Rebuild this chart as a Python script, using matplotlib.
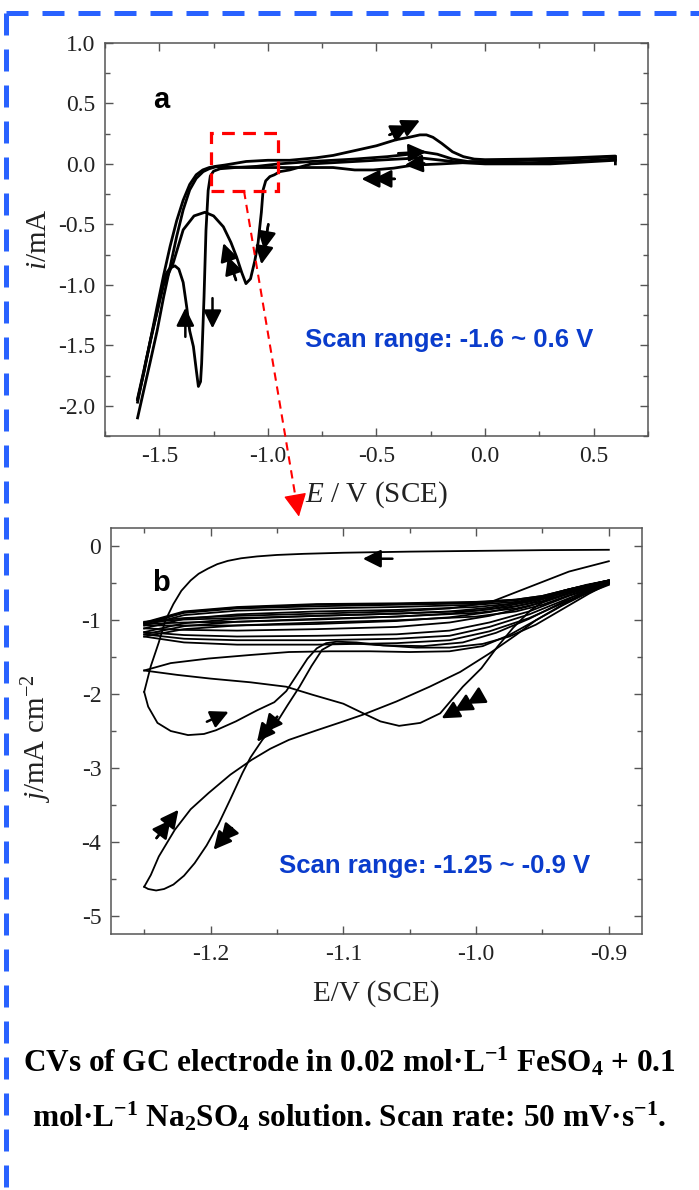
import matplotlib
matplotlib.use("Agg")
import matplotlib.pyplot as plt
from matplotlib.patches import Rectangle
from matplotlib.lines import Line2D
from matplotlib.ticker import MultipleLocator

plt.rcParams['font.family'] = ['Liberation Serif', 'DejaVu Serif']
plt.rcParams['mathtext.fontset'] = 'custom'
plt.rcParams['mathtext.rm'] = 'Liberation Serif'
plt.rcParams['mathtext.it'] = 'Liberation Serif:italic'
plt.rcParams['mathtext.bf'] = 'Liberation Serif:bold'
plt.rcParams['mathtext.default'] = 'regular'
plt.rcParams['axes.unicode_minus'] = False

# ---- panel a: wide scan, -1.6 ~ 0.6 V ----
a_cath_x = [0.60, 0.40, 0.20, 0.00, -0.10, -0.20, -0.33, -0.42, -0.515, -0.60, -0.70, -0.80, -0.90,
            -1.00, -1.10, -1.20, -1.236, -1.27, -1.298, -1.33, -1.36, -1.39, -1.42, -1.45, -1.48,
            -1.51, -1.543, -1.57, -1.60]
a_cath_y = [0.04, 0.02, 0.01, 0.01, 0.01, 0.00, -0.01, -0.035, -0.05, -0.05, -0.03, -0.03, -0.03,
            -0.03, -0.03, -0.025, -0.022, -0.04, -0.064, -0.12, -0.215, -0.38, -0.60, -0.85, -1.10,
            -1.38, -1.647, -1.86, -2.10]

a_an1_x = [-1.60, -1.57, -1.54, -1.51, -1.48, -1.45, -1.42, -1.39, -1.36, -1.33, -1.30, -1.27, -1.24,
           -1.20, -1.10, -1.00, -0.90, -0.78, -0.70, -0.60, -0.50, -0.41, -0.35, -0.30, -0.27,
           -0.24, -0.20, -0.15, -0.10, -0.05, 0.00, 0.20, 0.40, 0.60, 0.60]
a_an1_y = [-1.95, -1.72, -1.45, -1.18, -0.92, -0.68, -0.47, -0.30, -0.17, -0.09, -0.05, -0.03, -0.02,
           -0.01, 0.02, 0.03, 0.03, 0.05, 0.07, 0.11, 0.15, 0.20, 0.22, 0.24, 0.24,
           0.22, 0.17, 0.10, 0.06, 0.04, 0.035, 0.04, 0.05, 0.065, 0.00]

a_an2_x = [-1.60, -1.57, -1.54, -1.51, -1.497, -1.48, -1.466, -1.45, -1.428, -1.41, -1.39, -1.374,
           -1.36, -1.343, -1.33, -1.32, -1.31, -1.305, -1.30, -1.294, -1.285, -1.275, -1.265,
           -1.25, -1.22, -1.15, -1.05, -0.95, -0.80, -0.60, -0.45, -0.35, -0.29, -0.22, -0.15,
           -0.08, 0.00, 0.20, 0.40, 0.60]
a_an2_y = [-1.94, -1.70, -1.45, -1.22, -1.10, -0.98, -0.90, -0.86, -0.843, -0.87, -0.98, -1.18,
           -1.38, -1.51, -1.70, -1.84, -1.80, -1.65, -1.40, -1.10, -0.55, -0.22, -0.10,
           -0.06, -0.04, -0.03, -0.02, 0.00, 0.02, 0.04, 0.06, 0.08, 0.10, 0.08, 0.04,
           0.02, 0.02, 0.03, 0.04, 0.06]

a_an3_x = [-1.60, -1.56, -1.52, -1.48, -1.436, -1.39, -1.34, -1.29, -1.25, -1.205, -1.17, -1.144,
           -1.12, -1.101, -1.08, -1.06, -1.045, -1.03, -1.022, -1.01, -0.991, -0.97, -0.945,
           -0.90, -0.80, -0.70, -0.60, -0.50, -0.40, -0.30, -0.20, -0.10, 0.00, 0.30, 0.60]
a_an3_y = [-1.97, -1.62, -1.30, -1.00, -0.82, -0.545, -0.43, -0.40, -0.43, -0.52, -0.65, -0.77,
           -0.90, -0.99, -0.95, -0.80, -0.65, -0.40, -0.215, -0.14, -0.105, -0.09, -0.064,
           -0.05, 0.00, 0.01, 0.02, 0.03, 0.04, 0.05, 0.03, 0.01, 0.00, 0.00, 0.03]

a_arrows = [((-1.38, -1.43), (-1.38, -1.19), 1),
            ((-1.255, -1.11), (-1.255, -1.36), 1),
            ((-1.147, -0.96), (-1.205, -0.655), 2),
            ((-0.998, -0.50), (-1.03, -0.83), 2),
            ((-0.44, 0.24), (-0.30, 0.36), 2),
            ((-0.40, 0.088), (-0.27, 0.10), 1),
            ((-0.28, 0.005), (-0.37, -0.01), 1),
            ((-0.416, -0.124), (-0.569, -0.124), 2)]

# ---- panel b: narrow scan, -1.25 ~ -0.9 V ----
b1_x = [-0.900, -0.950, -1.000, -1.050, -1.100, -1.130, -1.150, -1.165, -1.177, -1.187, -1.195,
        -1.202, -1.209, -1.215, -1.222, -1.228, -1.234, -1.239, -1.245, -1.250]
b1_y = [-0.045, -0.050, -0.060, -0.070, -0.085, -0.100, -0.115, -0.135, -0.160, -0.195, -0.240,
        -0.300, -0.370, -0.460, -0.600, -0.780, -1.000, -1.300, -1.620, -1.970]
b1r_x = [-1.250, -1.247, -1.240, -1.230, -1.217, -1.205, -1.196, -1.181, -1.165, -1.152, -1.143,
         -1.135, -1.127, -1.120, -1.113, -1.105, -1.090, -1.070, -1.045, -1.020, -0.995, -0.975,
         -0.955, -0.935, -0.915, -0.900]
b1r_y = [-1.970, -2.170, -2.390, -2.500, -2.555, -2.540, -2.490, -2.370, -2.220, -2.110, -1.960,
         -1.740, -1.520, -1.380, -1.310, -1.290, -1.300, -1.340, -1.370, -1.370, -1.320, -1.220,
         -1.060, -0.850, -0.640, -0.500]

b2_x = [-0.900, -0.920, -0.940, -0.960, -0.985, -1.010, -1.040, -1.070, -1.095, -1.108, -1.116,
        -1.124, -1.133, -1.142, -1.150, -1.161, -1.170, -1.176, -1.185, -1.194, -1.203, -1.212,
        -1.220, -1.228, -1.235, -1.241, -1.247, -1.250]
b2_y = [-0.480, -0.620, -0.800, -0.980, -1.170, -1.300, -1.350, -1.340, -1.310, -1.320, -1.400,
        -1.620, -1.900, -2.150, -2.380, -2.620, -2.860, -3.070, -3.420, -3.760, -4.050, -4.290,
        -4.460, -4.580, -4.640, -4.660, -4.640, -4.610]
b2r_x = [-1.250, -1.245, -1.239, -1.227, -1.215, -1.2015, -1.185, -1.169, -1.155, -1.141, -1.120,
         -1.100, -1.0854, -1.060, -1.035, -1.012, -0.990, -0.970, -0.955, -0.936, -0.920, -0.900]
b2r_y = [-4.610, -4.450, -4.200, -3.840, -3.560, -3.340, -3.090, -2.890, -2.740, -2.620, -2.490,
         -2.370, -2.280, -2.100, -1.900, -1.700, -1.450, -1.200, -1.000, -0.800, -0.640, -0.480]

b3_x = [-0.900, -0.917, -0.934, -0.947, -0.959, -0.972, -0.984, -0.996, -1.010, -1.027, -1.042,
        -1.058, -1.072, -1.085, -1.100, -1.123, -1.143, -1.170, -1.200, -1.225, -1.250]
b3_y = [-0.460, -0.520, -0.600, -0.720, -0.865, -1.100, -1.360, -1.650, -1.900, -2.260, -2.390,
        -2.430, -2.370, -2.260, -2.130, -2.010, -1.900, -1.840, -1.790, -1.740, -1.680]
b3r_x = [-1.250, -1.230, -1.2015, -1.170, -1.141, -1.110, -1.080, -1.050, -1.020, -0.995, -0.975,
         -0.955, -0.935, -0.915, -0.900]
b3r_y = [-1.680, -1.580, -1.518, -1.470, -1.430, -1.420, -1.420, -1.430, -1.420, -1.350, -1.200,
         -1.000, -0.800, -0.620, -0.490]

# later cycles: cathodic sweeps (right to left) and anodic sweeps (left to right)
bc_x = [-0.90, -0.93, -0.95, -0.97, -1.00, -1.06, -1.12, -1.18, -1.22, -1.25]
bc_y = [[-0.50, -0.66, -0.79, -0.88, -0.95, -1.00, -1.03, -1.07, -1.12, -1.22],
        [-0.49, -0.64, -0.76, -0.84, -0.90, -0.95, -0.98, -1.02, -1.08, -1.19],
        [-0.49, -0.63, -0.74, -0.81, -0.87, -0.91, -0.94, -0.98, -1.04, -1.16],
        [-0.48, -0.61, -0.71, -0.77, -0.82, -0.86, -0.88, -0.92, -0.98, -1.11],
        [-0.47, -0.60, -0.69, -0.75, -0.79, -0.82, -0.84, -0.87, -0.93, -1.07],
        [-0.46, -0.59, -0.68, -0.73, -0.77, -0.79, -0.81, -0.84, -0.90, -1.05],
        [-0.46, -0.58, -0.67, -0.72, -0.76, -0.78, -0.79, -0.83, -0.89, -1.04],
        [-0.46, -0.58, -0.67, -0.72, -0.75, -0.77, -0.78, -0.82, -0.88, -1.03]]
ba_x = [-1.25, -1.22, -1.18, -1.12, -1.06, -1.02, -0.99, -0.96, -0.93, -0.90]
ba_y = [[-1.22, -1.30, -1.33, -1.33, -1.31, -1.27, -1.15, -0.97, -0.73, -0.52],
        [-1.19, -1.25, -1.27, -1.27, -1.25, -1.21, -1.09, -0.92, -0.70, -0.51],
        [-1.16, -1.20, -1.22, -1.21, -1.19, -1.14, -1.03, -0.88, -0.67, -0.50],
        [-1.11, -1.13, -1.14, -1.12, -1.09, -1.03, -0.94, -0.81, -0.63, -0.49],
        [-1.07, -1.07, -1.07, -1.05, -1.01, -0.96, -0.89, -0.77, -0.61, -0.48],
        [-1.05, -1.03, -1.02, -0.99, -0.95, -0.91, -0.85, -0.75, -0.59, -0.47],
        [-1.03, -0.99, -0.97, -0.94, -0.91, -0.88, -0.83, -0.73, -0.58, -0.46],
        [-1.02, -0.97, -0.94, -0.91, -0.88, -0.84, -0.76, -0.55, -0.34, -0.20]]

b_arrows = [((-1.063, -0.166), (-1.0853, -0.166), 1),
            ((-1.2028, -2.374), (-1.1864, -2.239), 1),
            ((-1.1498, -2.307), (-1.165, -2.645), 2),
            ((-1.2407, -3.95), (-1.2242, -3.567), 2),
            ((-1.1839, -3.815), (-1.1977, -4.108), 2),
            ((-0.9995, -2.058), (-1.026, -2.328), 3)]


def arrow(ax, tail, tip, heads=1, size=12, lw=1.8):
    (x0, y0), (x1, y1) = tail, tip
    for k in range(heads):
        f = 1 - k * 0.36
        ax.annotate('', xy=(x0 + f * (x1 - x0), y0 + f * (y1 - y0)), xytext=(x0, y0),
                    arrowprops=dict(arrowstyle='-|>,head_length=0.9,head_width=0.45',
                                    color='black', lw=lw, mutation_scale=size,
                                    shrinkA=0, shrinkB=0))


def style_axes(ax):
    for s in ax.spines.values():
        s.set_color('#555555')
        s.set_linewidth(1.1)
    ax.tick_params(which='both', direction='in', top=True, right=True,
                   colors='#555555', labelcolor='#222222', labelsize=17, width=1.0)
    ax.tick_params(which='major', length=6, pad=7)
    ax.tick_params(which='minor', length=3.5)


fig = plt.figure(figsize=(6.99, 11.9), dpi=100)

# panel a
ax1 = fig.add_axes([0.1502, 0.6336, 0.7768, 0.3303])
for xs, ys in [(a_cath_x, a_cath_y), (a_an1_x, a_an1_y), (a_an2_x, a_an2_y), (a_an3_x, a_an3_y)]:
    ax1.plot(xs, ys, color='black', lw=2.0, solid_joinstyle='round')
ax1.set_xlim(-1.75, 0.75)
ax1.set_ylim(-2.25, 1.0)
ax1.xaxis.set_major_locator(MultipleLocator(0.5))
ax1.xaxis.set_minor_locator(MultipleLocator(0.25))
ax1.yaxis.set_major_locator(MultipleLocator(0.5))
ax1.yaxis.set_minor_locator(MultipleLocator(0.25))
ax1.xaxis.set_major_formatter(plt.FormatStrFormatter('%.1f'))
ax1.yaxis.set_major_formatter(plt.FormatStrFormatter('%.1f'))
style_axes(ax1)
ax1.set_xlabel(r'$\mathit{E}$ / V (SCE)', fontsize=21, color='#222222')
ax1.xaxis.set_label_coords(0.5, -0.11)
ax1.set_ylabel(r'$\mathit{i}$/mA', fontsize=21, color='#222222')
ax1.yaxis.set_label_coords(-0.097, 0.5)
for tail, tip, n in a_arrows:
    arrow(ax1, tail, tip, n, size=12, lw=1.8)
ax1.text(0.088, 0.855, 'a', transform=ax1.transAxes, fontsize=21, fontweight='bold',
         family='Liberation Sans', ha='left', va='center')
ax1.text(0.6335, 0.244, 'Scan range: -1.6 ~ 0.6 V', transform=ax1.transAxes, fontsize=18.5,
         fontweight='bold', family='Liberation Sans', color='#0a3ccc', ha='center', va='center')

# zoom window and pointer to panel b
ax1.add_patch(Rectangle((-1.262, -0.223), 0.308, 0.479, fill=False, edgecolor='red',
                        lw=2.3, ls=(0, (4, 2.6)), zorder=5))
ax1.plot([-1.110, -0.869], [-0.223, -2.795], color='red', lw=1.5, ls=(0, (4, 2.8)),
         clip_on=False, zorder=5)
ax1.annotate('', xy=(-0.857, -2.917), xytext=(-0.869, -2.795), annotation_clip=False,
             arrowprops=dict(arrowstyle='-|>,head_length=0.9,head_width=0.45', color='red',
                             lw=1, mutation_scale=16, shrinkA=0, shrinkB=0))

# panel b
ax2 = fig.add_axes([0.1588, 0.2151, 0.7597, 0.3412])
curves_b = [(b1_x, b1_y), (b1r_x, b1r_y), (b2_x, b2_y), (b2r_x, b2r_y), (b3_x, b3_y), (b3r_x, b3r_y)]
curves_b += [(bc_x, ys) for ys in bc_y]
curves_b += [(ba_x, ys) for ys in ba_y]
for xs, ys in curves_b:
    ax2.plot(xs, ys, color='black', lw=1.3, solid_joinstyle='round')
ax2.set_xlim(-1.275, -0.875)
ax2.set_ylim(-5.25, 0.25)
ax2.xaxis.set_major_locator(MultipleLocator(0.1))
ax2.xaxis.set_minor_locator(MultipleLocator(0.05))
ax2.yaxis.set_major_locator(MultipleLocator(1))
ax2.yaxis.set_minor_locator(MultipleLocator(0.5))
ax2.xaxis.set_major_formatter(plt.FormatStrFormatter('%.1f'))
ax2.yaxis.set_major_formatter(plt.FormatStrFormatter('%d'))
style_axes(ax2)
ax2.set_xlabel('E/V (SCE)', fontsize=21, color='#222222')
ax2.xaxis.set_label_coords(0.5, -0.113)
ax2.set_ylabel(r'$\mathit{j}$/mA cm$^{-2}$', fontsize=21, color='#222222')
ax2.yaxis.set_label_coords(-0.108, 0.48)
for tail, tip, n in b_arrows:
    arrow(ax2, tail, tip, n, size=12, lw=1.8)
ax2.text(0.077, 0.864, 'b', transform=ax2.transAxes, fontsize=21, fontweight='bold',
         family='Liberation Sans', ha='left', va='center')
ax2.text(0.609, 0.1675, 'Scan range: -1.25 ~ -0.9 V', transform=ax2.transAxes, fontsize=18.5,
         fontweight='bold', family='Liberation Sans', color='#0a3ccc', ha='center', va='center')

# caption
fig.text(0.5, 1 - 1062 / 1190, r'CVs of GC electrode in 0.02 mol·L$^{-1}$ FeSO$_{4}$ + 0.1',
         ha='center', va='center', fontsize=22.5, fontweight='bold')
fig.text(0.5, 1 - 1117 / 1190, r'mol·L$^{-1}$ Na$_{2}$SO$_{4}$ solution. Scan rate: 50 mV·s$^{-1}$.',
         ha='center', va='center', fontsize=22.5, fontweight='bold')

# dashed frame
frame = dict(color='#2962ff', lw=3.6, ls=(0, (4.4, 2.8)), transform=fig.transFigure)
fig.add_artist(Line2D([6 / 699, 1.0], [1 - 13 / 1190, 1 - 13 / 1190], **frame))
fig.add_artist(Line2D([6 / 699, 6 / 699], [1 - 13 / 1190, 0.0], **frame))

fig.savefig('out.png', dpi=100)
